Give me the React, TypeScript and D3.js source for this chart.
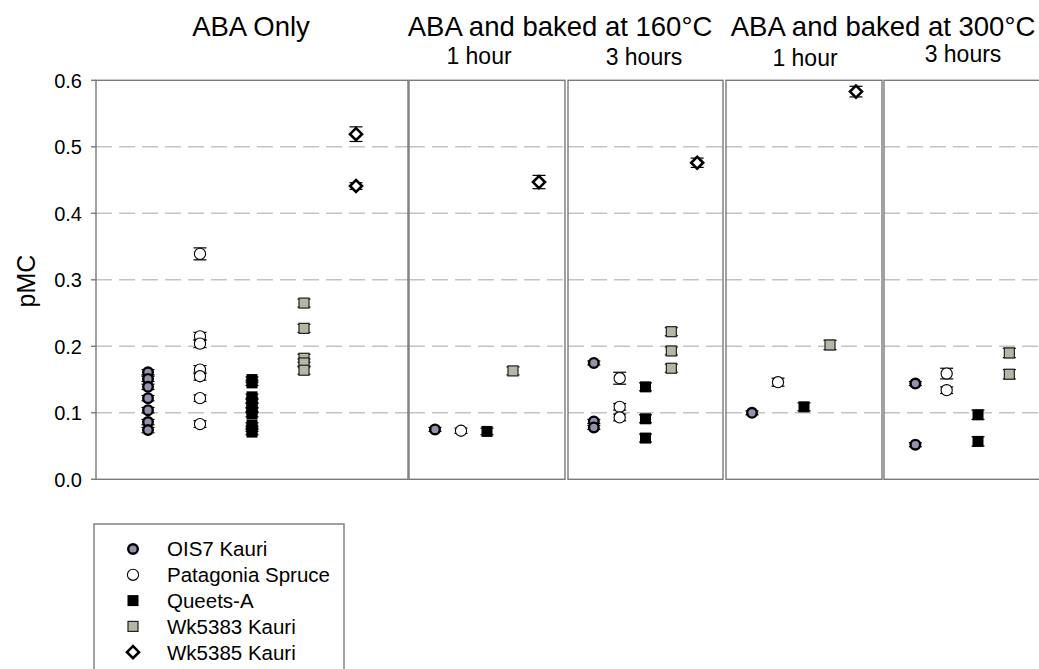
import { useEffect, useRef } from "react";
import * as d3 from "d3";

// sample names, in legend order
const seriesNames = ["OIS7 Kauri", "Patagonia Spruce", "Queets-A", "Wk5383 Kauri", "Wk5385 Kauri"];

// pMC values per sample (one array per sample) for each treatment
const abaOnlyValues = [
  [0.161, 0.151, 0.139, 0.122, 0.104, 0.086, 0.074],
  [0.339, 0.215, 0.204, 0.165, 0.155, 0.122, 0.083],
  [0.15, 0.145, 0.124, 0.118, 0.111, 0.104, 0.098, 0.081, 0.076, 0.071],
  [0.265, 0.227, 0.182, 0.175, 0.164],
  [0.519, 0.441],
];
const abaOnlyErrors = [
  [0.004, 0.004, 0.004, 0.004, 0.004, 0.004, 0.004],
  [0.009, 0.006, 0.006, 0.006, 0.006, 0.005, 0.005],
  [0.004, 0.004, 0.004, 0.004, 0.004, 0.004, 0.004, 0.004, 0.004, 0.004],
  [0.006, 0.006, 0.006, 0.006, 0.006],
  [0.011, 0.005],
];

const baked160h1Values = [[0.075], [0.073], [0.072], [0.163], [0.447]];
const baked160h1Errors = [[0.003], [0.004], [0.005], [0.006], [0.01]];

const baked160h3Values = [
  [0.175, 0.087, 0.078],
  [0.152, 0.109, 0.093],
  [0.139, 0.091, 0.062],
  [0.222, 0.193, 0.167],
  [0.476],
];
const baked160h3Errors = [
  [0.003, 0.003, 0.003],
  [0.009, 0.005, 0.005],
  [0.006, 0.006, 0.006],
  [0.006, 0.006, 0.006],
  [0.007],
];

const baked300h1Values = [[0.1], [0.146], [0.109], [0.202], [0.583]];
const baked300h1Errors = [[0.003], [0.006], [0.006], [0.007], [0.008]];

const baked300h3Values = [[0.144, 0.052], [0.159, 0.134], [0.097, 0.057], [0.19, 0.158], []];
const baked300h3Errors = [[0.003, 0.003], [0.008, 0.005], [0.007, 0.007], [0.007, 0.007], []];

const yTicks = [0, 0.1, 0.2, 0.3, 0.4, 0.5, 0.6];

const W = 1039;
const H = 669;
const FONT = "'Liberation Sans', Arial, sans-serif";

interface Panel {
  x0: number;
  x1: number;
  values: number[][];
  errors: number[][];
}

const panels: Panel[] = [
  { x0: 96, x1: 408, values: abaOnlyValues, errors: abaOnlyErrors },
  { x0: 409, x1: 565, values: baked160h1Values, errors: baked160h1Errors },
  { x0: 568, x1: 723, values: baked160h3Values, errors: baked160h3Errors },
  { x0: 726, x1: 882, values: baked300h1Values, errors: baked300h1Errors },
  { x0: 884, x1: 1072, values: baked300h3Values, errors: baked300h3Errors },
];

function drawMarker(g: d3.Selection<SVGGElement, unknown, null, undefined>, s: number, cx: number, cy: number) {
  if (s === 0) {
    g.append("circle").attr("cx", cx).attr("cy", cy).attr("r", 4.8)
      .attr("fill", "#9292ac").attr("stroke", "#000").attr("stroke-width", 2.4);
  } else if (s === 1) {
    g.append("circle").attr("cx", cx).attr("cy", cy).attr("r", 5.6)
      .attr("fill", "#fff").attr("stroke", "#000").attr("stroke-width", 1.1);
  } else if (s === 2) {
    g.append("rect").attr("x", cx - 5.5).attr("y", cy - 5.5).attr("width", 11).attr("height", 11)
      .attr("fill", "#000");
  } else if (s === 3) {
    g.append("rect").attr("x", cx - 5).attr("y", cy - 5).attr("width", 10).attr("height", 10)
      .attr("fill", "#b6b6a6").attr("stroke", "#222").attr("stroke-width", 1.2);
  } else {
    const r = 6;
    g.append("path")
      .attr("d", `M${cx},${cy - r}L${cx + r},${cy}L${cx},${cy + r}L${cx - r},${cy}Z`)
      .attr("fill", "#fff").attr("stroke", "#000").attr("stroke-width", 2.6);
  }
}

export default function App() {
  const ref = useRef<SVGSVGElement | null>(null);

  useEffect(() => {
    document.body.style.margin = "0";
    document.body.style.overflow = "hidden";
    if (!ref.current) return;
    const svg = d3.select(ref.current);
    svg.selectAll("*").remove();

    const y = d3.scaleLinear().domain([0, 0.6]).range([479.3, 80.3]);

    // panels: grid, frame, points
    panels.forEach((p) => {
      const x = d3.scaleLinear().domain([0, 6]).range([p.x0, p.x1]);
      const g = svg.append("g");

      g.selectAll("line.grid")
        .data(yTicks.filter((t) => t > 0 && t < 0.6))
        .join("line")
        .attr("x1", p.x0).attr("x2", p.x1)
        .attr("y1", (d) => y(d)).attr("y2", (d) => y(d))
        .attr("stroke", "#c4c4bc").attr("stroke-width", 1.4)
        .attr("stroke-dasharray", "16 7");

      g.append("rect")
        .attr("x", p.x0).attr("y", y(0.6))
        .attr("width", p.x1 - p.x0).attr("height", y(0) - y(0.6))
        .attr("fill", "none").attr("stroke", "#7a7a7a").attr("stroke-width", 1.4);

      p.values.forEach((vals, s) => {
        const cx = x(s + 1);
        vals.forEach((v, i) => {
          const e = p.errors[s][i];
          const eg = g.append("g").attr("stroke", "#000").attr("stroke-width", 1.2);
          eg.append("line").attr("x1", cx).attr("x2", cx).attr("y1", y(v - e)).attr("y2", y(v + e));
          [v - e, v + e].forEach((ev) =>
            eg.append("line").attr("x1", cx - 6.5).attr("x2", cx + 6.5).attr("y1", y(ev)).attr("y2", y(ev))
          );
        });
        vals.forEach((v) => drawMarker(g, s, cx, y(v)));
      });
    });

    // y axis
    const ax = svg.append("g");
    yTicks.forEach((t) => {
      ax.append("line").attr("x1", 91).attr("x2", 96).attr("y1", y(t)).attr("y2", y(t))
        .attr("stroke", "#7a7a7a").attr("stroke-width", 1.4);
      ax.append("text").attr("x", 82).attr("y", y(t)).attr("dy", "0.36em")
        .attr("text-anchor", "end").attr("font-size", 20).attr("font-family", FONT)
        .text(d3.format(".1f")(t));
    });
    ax.append("text")
      .attr("transform", `translate(35,281) rotate(-90)`)
      .attr("text-anchor", "middle").attr("font-size", 25).attr("font-family", FONT)
      .text("pMC");

    // titles
    const titles: [string, number, number, number][] = [
      ["ABA Only", 251, 36, 27.5],
      ["ABA and baked at 160°C", 560, 36, 27.5],
      ["ABA and baked at 300°C", 883, 36, 27.5],
      ["1 hour", 479, 64, 23],
      ["3 hours", 644, 65, 23],
      ["1 hour", 805, 66, 23],
      ["3 hours", 963, 62, 23],
    ];
    titles.forEach(([t, tx, ty, fs]) =>
      svg.append("text").attr("x", tx).attr("y", ty).attr("text-anchor", "middle")
        .attr("font-size", fs).attr("font-family", FONT).text(t)
    );

    // legend
    const lg = svg.append("g");
    lg.append("rect").attr("x", 94).attr("y", 524).attr("width", 250).attr("height", 200)
      .attr("fill", "#fff").attr("stroke", "#7a7a7a").attr("stroke-width", 1.4);
    seriesNames.forEach((name, i) => {
      const ly = 549 + i * 25.8;
      const mg = lg.append("g");
      drawMarker(mg, i, 133, ly);
      lg.append("text").attr("x", 167).attr("y", ly).attr("dy", "0.36em")
        .attr("font-size", 20.5).attr("font-family", FONT).text(name);
    });
  }, []);

  return <svg ref={ref} width={W} height={H} style={{ display: "block", background: "#fff" }} />;
}
